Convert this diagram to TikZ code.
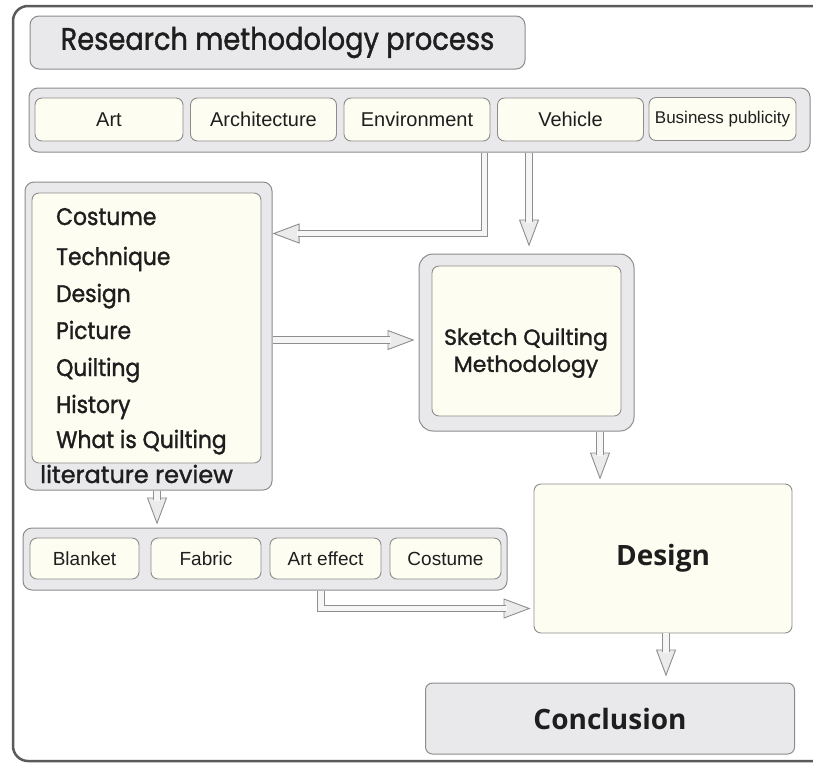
\documentclass[tikz,border=0pt]{standalone}
\usepackage{fontspec}
\setmainfont{Liberation Sans}
\newfontfamily\pop[FakeStretch=0.88,FakeBold=1.3]{Poppins}
\newfontfamily\popl[FakeStretch=0.91,FakeBold=1.4]{Poppins}
\newfontfamily\popw[FakeBold=1.4]{Poppins}
\newfontfamily\opens{Open Sans}
\usetikzlibrary{arrows.meta,calc}
\definecolor{gfill}{HTML}{E9E9EB}
\definecolor{cfill}{HTML}{FDFDF1}
\definecolor{bgray}{HTML}{8C8C8C}
\definecolor{agray}{HTML}{8E8E8E}
\definecolor{afill}{HTML}{EBEBEB}
\definecolor{ainner}{HTML}{F6F6F6}
\definecolor{frameg}{HTML}{5A5A5A}
\definecolor{txt}{HTML}{1E1E1E}
\tikzset{
  graybox/.style={draw=bgray, fill=gfill, line width=1pt, rounded corners=9pt, inner sep=0pt},
  creambox/.style={draw=bgray, fill=cfill, line width=0.9pt, rounded corners=7pt, inner sep=0pt},
  toplabel/.style={text=txt, font=\fontsize{20}{24}\selectfont},
  lowlabel/.style={text=txt, font=\fontsize{19}{23}\selectfont},
  listitem/.style={text=txt, anchor=base west, inner sep=0pt, font=\popl\fontsize{24}{27}\selectfont},
  hhead/.style={draw=agray, line width=0.9pt, -{Triangle[length=27pt,width=20pt,fill=afill]}, shorten >=#1},
  hout/.style={draw=agray, line width=7.5pt, shorten >=#1+25pt},
  hin/.style={draw=ainner, line width=5.2pt, shorten >=#1+24pt},
}
\newcommand\harr[2]{%
  \draw[hhead=#2] #1;
  \draw[hout=#2] #1;
  \draw[hin=#2] #1;
}
\begin{document}
\begin{tikzpicture}[x=1pt,y=-1pt]
\useasboundingbox (0,0) rectangle (813,764);
\clip (0,0) rectangle (813,764);
\fill[white] (0,0) rectangle (813,764);
% outer frame
\draw[frameg, line width=2.5pt, rounded corners=15pt] (13,6) rectangle (860,761);

% title
\node[graybox, minimum width=495pt, minimum height=53pt] (title) at (277.5,42.5)
  {\pop\fontsize{31}{34}\selectfont\color{txt}Research methodology process};

% top row
\node[graybox, minimum width=781pt, minimum height=64pt] (topbox) at (419.5,120) {};
\node[creambox, minimum width=148pt, minimum height=43pt, toplabel] (art) at (109,119.5) {Art};
\node[creambox, minimum width=146pt, minimum height=43pt, toplabel] (arch) at (263.5,119.5) {Architecture};
\node[creambox, minimum width=146pt, minimum height=43pt, toplabel] (env) at (417,119.5) {Environment};
\node[creambox, minimum width=146pt, minimum height=43pt, toplabel] (veh) at (570.5,119.5) {Vehicle};
\node[creambox, minimum width=147pt, minimum height=43pt, text=txt, font=\fontsize{17}{20}\selectfont] (bus) at (722.5,119) {Business publicity};

% literature review
\node[graybox, minimum width=247pt, minimum height=308pt] (lit) at (148.5,336) {};
\node[creambox, minimum width=229pt, minimum height=270pt] (litin) at (146.5,328) {};
\node[listitem] (l1) at (56,225) {Costume};
\node[listitem] (l2) at (56,265) {Technique};
\node[listitem] (l3) at (56,302) {Design};
\node[listitem] (l4) at (56,339) {Picture};
\node[listitem] (l5) at (56,376) {Quilting};
\node[listitem] (l6) at (56,413) {History};
\node[listitem] (l7) at (56,448) {What is Quilting};
\node[listitem, font=\popw\fontsize{24}{27}\selectfont] (litlab) at (40,483) {literature review};

% sketch
\node[graybox, minimum width=215pt, minimum height=177pt, rounded corners=14pt] (sketch) at (526.5,342.5) {};
\node[creambox, minimum width=189pt, minimum height=150pt] (sketchin) at (526.5,341) {};
\node[text=txt, align=center, font=\popw\fontsize{22}{27}\selectfont] (sketchtxt) at (526,353) {Sketch Quilting\\Methodology};

% lower row
\node[graybox, minimum width=484pt, minimum height=62pt] (lower) at (265,559) {};
\node[creambox, minimum width=109pt, minimum height=41pt, lowlabel] (blank) at (84.5,558.5) {Blanket};
\node[creambox, minimum width=110pt, minimum height=41pt, lowlabel] (fab) at (206,558.5) {Fabric};
\node[creambox, minimum width=111pt, minimum height=41pt, lowlabel] (arteff) at (325.5,558.5) {Art effect};
\node[creambox, minimum width=111pt, minimum height=41pt, lowlabel] (cost) at (445.5,558.5) {Costume};

% design
\node[creambox, minimum width=258pt, minimum height=149pt, text=txt, font=\opens\bfseries\fontsize{28}{32}\selectfont] (design) at (663,558.5) {Design};

% conclusion
\node[graybox, minimum width=369pt, minimum height=71pt, rounded corners=7pt, text=txt, font=\opens\bfseries\fontsize{28}{32}\selectfont] (concl) at (610,718.5) {Conclusion};

% bend coordinates
\coordinate (b1) at (484.5,233.5);
\coordinate (b2) at (529,0);
\coordinate (b3) at (0,340);
\coordinate (b4) at (600,0);
\coordinate (b5) at (157,0);
\coordinate (b6) at (321,608.5);
\coordinate (b7) at (666,0);

% arrows
\harr{(topbox.south -| b1) |- (lit.east |- b1)}{0pt}
\harr{(topbox.south -| b2) -- (sketch.north -| b2)}{7pt}
\harr{(lit.east |- b3) -- (sketch.west |- b3)}{4pt}
\harr{(sketch.south -| b4) -- (design.north -| b4)}{4pt}
\harr{(lit.south -| b5) -- (lower.north -| b5)}{3pt}
\harr{(lower.south -| b6) |- (design.west |- b6)}{3pt}
\harr{(design.south -| b7) -- (concl.north -| b7)}{6pt}
\end{tikzpicture}
\end{document}
